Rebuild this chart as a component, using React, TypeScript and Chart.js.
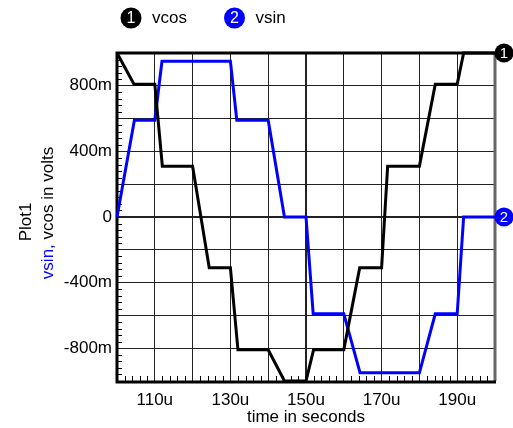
import { useEffect, useRef } from "react";
import { Chart, registerables } from "chart.js";

Chart.register(...registerables);

// ---- data ----
const vcosTime = [100, 104.5, 110, 112, 120, 124.4, 130, 132, 140, 144.3, 150, 152, 160, 164.2, 170, 171.6, 180, 184.2, 190, 191.7, 200];
const vcosValues = [1.0, 0.81, 0.81, 0.31, 0.31, -0.31, -0.31, -0.81, -0.81, -1.0, -1.0, -0.81, -0.81, -0.31, -0.31, 0.31, 0.31, 0.81, 0.81, 1.0, 1.0];
const vsinTime = [100, 104.6, 110, 111.9, 130, 131.7, 140, 144.3, 150, 151.9, 160, 164.3, 180, 184.2, 190, 191.7, 200];
const vsinValues = [0, 0.59, 0.59, 0.95, 0.95, 0.59, 0.59, 0, 0, -0.59, -0.59, -0.95, -0.95, -0.59, -0.59, 0, 0];
const xTickLabels = [110, 130, 150, 170, 190];
const yTickLabels = [-0.8, -0.4, 0, 0.4, 0.8];
const seriesNames = ["vcos", "vsin"];
const seriesColors = ["#000000", "#0000ff"];
const seriesNumbers = ["1", "2"];

const FONT = "'Liberation Sans', Arial, Helvetica, sans-serif";
const FS = 17;

const fmtY = (v: number) => {
  const m = Math.round(v * 1000);
  return m === 0 ? "0" : `${m}m`;
};

export default function App() {
  const ref = useRef<HTMLCanvasElement | null>(null);

  useEffect(() => {
    if (!ref.current) return;

    const decor = {
      id: "decor",
      beforeDatasetsDraw(chart: any) {
        const { ctx, chartArea: a, scales } = chart;
        const x = scales.x, y = scales.y;
        ctx.save();
        ctx.strokeStyle = "#000";
        ctx.lineWidth = 1;
        for (let t = 100; t <= 200; t += 2) {
          if (Math.round(t) % 10 === 0) continue;
          const px = Math.round(x.getPixelForValue(t)) + 0.5;
          ctx.beginPath();
          ctx.moveTo(px, a.bottom);
          ctx.lineTo(px, a.bottom - 5);
          ctx.stroke();
        }
        for (let k = -25; k <= 25; k++) {
          if (k % 5 === 0) continue;
          const py = Math.round(y.getPixelForValue(k * 0.04)) + 0.5;
          ctx.beginPath();
          ctx.moveTo(a.left, py);
          ctx.lineTo(a.left + 5, py);
          ctx.stroke();
        }
        ctx.lineWidth = 3;
        ctx.strokeStyle = "#666";
        ctx.beginPath();
        ctx.moveTo(a.right, a.top);
        ctx.lineTo(a.right, a.bottom);
        ctx.stroke();
        ctx.strokeStyle = "#000";
        ctx.beginPath();
        ctx.moveTo(a.right, a.top);
        ctx.lineTo(a.left, a.top);
        ctx.lineTo(a.left, a.bottom + 1);
        ctx.lineTo(a.right + 1, a.bottom + 1);
        ctx.stroke();
        ctx.restore();
      },
      afterDraw(chart: any) {
        const { ctx, chartArea: a, scales } = chart;
        ctx.save();
        const lx = [131, 234.5];
        const ly = 18;
        ctx.textBaseline = "middle";
        seriesNames.forEach((name, i) => {
          ctx.fillStyle = seriesColors[i];
          ctx.beginPath();
          ctx.arc(lx[i], ly, 10.5, 0, Math.PI * 2);
          ctx.fill();
          ctx.fillStyle = "#fff";
          ctx.textAlign = "center";
          ctx.font = `16px ${FONT}`;
          ctx.fillText(seriesNumbers[i], lx[i], ly + 1);
          ctx.fillStyle = "#000";
          ctx.textAlign = "left";
          ctx.font = `${FS}px ${FONT}`;
          ctx.fillText(name, lx[i] + 21, ly);
        });
        chart.data.datasets.forEach((ds: any, i: number) => {
          const last = ds.data[ds.data.length - 1];
          const py = scales.y.getPixelForValue(last.y);
          const px = a.right + 9;
          ctx.fillStyle = seriesColors[i];
          ctx.beginPath();
          ctx.arc(px, py, 9.5, 0, Math.PI * 2);
          ctx.fill();
          ctx.fillStyle = "#fff";
          ctx.textAlign = "center";
          ctx.font = `15px ${FONT}`;
          ctx.fillText(seriesNumbers[i], px, py + 1);
        });
        const cy = (a.top + a.bottom) / 2;
        ctx.font = `${FS}px ${FONT}`;
        ctx.textBaseline = "middle";
        ctx.save();
        ctx.translate(26, cy + 5);
        ctx.rotate(-Math.PI / 2);
        ctx.textAlign = "center";
        ctx.fillStyle = "#000";
        ctx.fillText("Plot1", 0, 0);
        ctx.restore();
        ctx.save();
        ctx.translate(48, cy - 4);
        ctx.rotate(-Math.PI / 2);
        ctx.textAlign = "left";
        const p1 = "vsin,";
        const p2 = " vcos in volts";
        const w1 = ctx.measureText(p1).width;
        const w2 = ctx.measureText(p2).width;
        const sx = -(w1 + w2) / 2;
        ctx.fillStyle = "#0000ff";
        ctx.fillText(p1, sx, 0);
        ctx.fillStyle = "#000";
        ctx.fillText(p2, sx + w1, 0);
        ctx.restore();
        ctx.restore();
      },
    };

    const chart = new Chart(ref.current, {
      type: "line",
      data: {
        datasets: [
          {
            label: seriesNames[0],
            data: vcosTime.map((t, i) => ({ x: t, y: vcosValues[i] })),
            borderColor: seriesColors[0],
            borderWidth: 3,
            pointRadius: 0,
            fill: false,
            clip: 4,
          },
          {
            label: seriesNames[1],
            data: vsinTime.map((t, i) => ({ x: t, y: vsinValues[i] })),
            borderColor: seriesColors[1],
            borderWidth: 3,
            pointRadius: 0,
            fill: false,
            clip: 4,
          },
        ],
      },
      options: {
        animation: false,
        responsive: true,
        maintainAspectRatio: false,
        layout: { padding: { top: 53, right: 18, left: 0, bottom: 0 } },
        plugins: { legend: { display: false }, tooltip: { enabled: false } },
        scales: {
          x: {
            type: "linear",
            min: 100,
            max: 200,
            afterFit: (s: any) => { s.height = 47; },
            border: { display: false },
            grid: {
              drawTicks: false,
              color: "#222",
              lineWidth: (c: any) => (Math.round(c.tick.value) === 150 ? 2 : 1),
            },
            ticks: {
              stepSize: 10,
              autoSkip: false,
              maxRotation: 0,
              padding: 9,
              color: "#000",
              font: { family: FONT, size: FS },
              callback: (v: any) => (xTickLabels.includes(Math.round(v)) ? `${Math.round(v)}u` : ""),
            },
            title: {
              display: true,
              text: "time in seconds",
              color: "#000",
              font: { family: FONT, size: FS },
              padding: { top: 0, bottom: 0 },
            },
          },
          y: {
            type: "linear",
            min: -1,
            max: 1,
            afterFit: (s: any) => { s.width = 117; },
            border: { display: false },
            grid: {
              drawTicks: false,
              color: "#222",
              lineWidth: (c: any) => (Math.abs(c.tick.value) < 1e-6 ? 2 : 1),
            },
            ticks: {
              stepSize: 0.2,
              autoSkip: false,
              padding: 5,
              color: "#000",
              font: { family: FONT, size: FS },
              callback: (v: any) => {
                const n = Number(v);
                return yTickLabels.some((t) => Math.abs(t - n) < 1e-6) ? fmtY(n) : "";
              },
            },
          },
        },
      },
      plugins: [decor],
    });
    return () => chart.destroy();
  }, []);

  return (
    <div style={{ position: "absolute", left: 0, top: 0, width: 513, height: 428, background: "#fff" }}>
      <canvas ref={ref} />
    </div>
  );
}
